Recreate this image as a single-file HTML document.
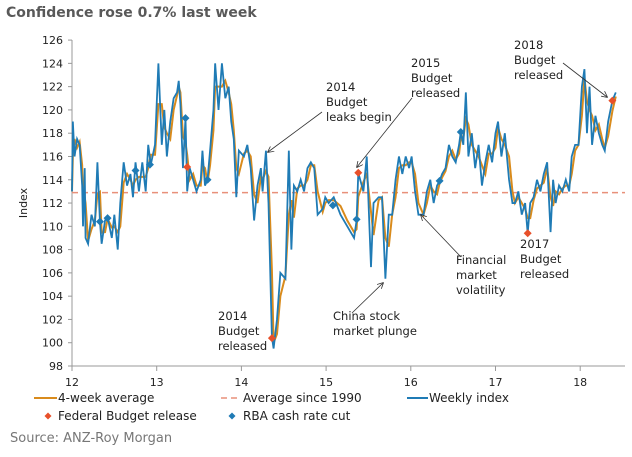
<!DOCTYPE html>
<html><head><meta charset="utf-8"><style>
body{margin:0;background:#fff;width:632px;height:453px;overflow:hidden;font-family:"DejaVu Sans","Liberation Sans",sans-serif}
svg text{font-family:"DejaVu Sans","Liberation Sans",sans-serif}
</style></head><body>
<svg id="c" width="632" height="453">
<text x="6" y="17" font-size="14" font-weight="bold" fill="#595959">Confidence rose 0.7% last week</text>
<text x="10" y="442" font-size="13" fill="#777">Source: ANZ-Roy Morgan</text>
</svg>
<script>
const years=[12.00,12.01,12.03,12.06,12.09,12.12,12.13,12.15,12.16,12.19,12.23,12.27,12.30,12.33,12.35,12.39,12.42,12.47,12.50,12.54,12.57,12.61,12.65,12.69,12.72,12.75,12.79,12.83,12.87,12.90,12.93,12.98,13.02,13.06,13.09,13.12,13.16,13.20,13.24,13.26,13.28,13.31,13.34,13.36,13.39,13.43,13.47,13.52,13.54,13.57,13.60,13.63,13.67,13.69,13.73,13.77,13.81,13.85,13.88,13.91,13.94,13.97,14.03,14.07,14.11,14.15,14.19,14.23,14.25,14.29,14.32,14.36,14.38,14.42,14.46,14.52,14.56,14.59,14.62,14.66,14.70,14.74,14.78,14.82,14.86,14.90,14.96,14.99,15.03,15.09,15.17,15.25,15.33,15.36,15.38,15.44,15.48,15.53,15.56,15.62,15.66,15.70,15.74,15.78,15.82,15.86,15.90,15.94,15.98,16.01,16.05,16.09,16.15,16.19,16.23,16.27,16.31,16.34,16.37,16.41,16.45,16.49,16.53,16.57,16.59,16.62,16.65,16.68,16.72,16.76,16.80,16.84,16.88,16.92,16.96,17.00,17.03,17.07,17.11,17.16,17.20,17.23,17.27,17.31,17.35,17.38,17.41,17.45,17.49,17.53,17.57,17.61,17.65,17.68,17.71,17.75,17.79,17.83,17.87,17.90,17.94,17.98,18.02,18.05,18.08,18.11,18.14,18.18,18.22,18.26,18.29,18.33,18.38,18.42];
const weekly=[113,119,116,117.5,117,113.5,110,115,109,108.5,111,110,115.5,110.4,108.5,110.5,110.8,109,111,108,112,115.5,113.5,114.5,112.5,115.5,113,115.5,113,117,115.3,117,124,117,120,116,119,121,121.5,122.5,120.5,115,119.3,113,115,114,113,114,116.5,113.5,114,116.5,120,124,120,124,121,122,119,117.5,112.5,116.5,116,117,115,110.5,113.5,115,113,116.5,112,100.5,99.5,102,106,105.5,116.5,108,113.5,113,114,113,115,115.5,115,111,111.5,112.5,112,112.5,111,110,109,110.5,114.6,113,116,106.5,112,112.5,112.5,105.5,111,111,114,116,114.5,116,115,116,113,111,111,113,114,112,113.5,113.9,114.5,115,117,116,115.5,117,118.1,117,121.5,116,118,115,117,113.5,115.5,117,115.5,118,119,116,118,114,112,112,113,111,112,109.4,112,112.5,114,113,114.5,115.5,109.5,114,112,113.5,113,114,113,116,117,117,122,123.5,118,122,117,119.5,118,117,116.5,119,120.8,121.5];
const budgetYears=[13.36,14.36,15.38,17.38,18.38];
const budgetVals=[115.1,100.4,114.6,109.4,120.8];
const rbaYears=[12.33,12.42,12.75,12.92,13.34,13.60,15.08,15.36,16.34,16.59];
const rbaVals=[110.4,110.7,114.8,115.3,119.3,114.0,111.8,110.6,113.9,118.1];
const yTicks=[98,100,102,104,106,108,110,112,114,116,118,120,122,124,126];
const xTicks=[12,13,14,15,16,17,18];
const avgSince1990=[112.9];
const X=t=>72+(t-12)*84.7, Y=v=>366-(v-98)*11.64;
const svg=document.getElementById('c'),NS='http://www.w3.org/2000/svg';
function mk(tag,attrs,parent){const e=document.createElementNS(NS,tag);for(const k in attrs)e.setAttribute(k,attrs[k]);(parent||svg).appendChild(e);return e;}
let ax=mk('line',{x1:72,y1:40,x2:72,y2:366,stroke:'#999'});


let bx=mk('line',{x1:72,y1:366,x2:625,y2:366,stroke:'#999'});


yTicks.forEach(v=>{mk('line',{x1:68,x2:72,y1:Y(v),y2:Y(v),stroke:'#999'});
 const t=mk('text',{x:63,y:Y(v)+4,'font-size':11,'text-anchor':'end',fill:'#222'});t.textContent=v;
 
 });
xTicks.forEach(v=>{mk('line',{x1:X(v),x2:X(v),y1:366,y2:371,stroke:'#999'});
 const t=mk('text',{x:X(v),y:386,'font-size':11,'text-anchor':'middle',fill:'#222'});t.textContent=v;
 
 });
const yt=mk('text',{x:0,y:0,'font-size':11,'text-anchor':'middle',fill:'#222',transform:'translate(27,203) rotate(-90)'});yt.textContent='Index';


const al=mk('line',{x1:72,x2:625,y1:Y(avgSince1990[0]),y2:Y(avgSince1990[0]),stroke:'#e8907a','stroke-width':1.5,'stroke-dasharray':'6,4'});


const avg4=weekly.map((v,i)=>i===0?v:(v+weekly[i-1])/2);
const p1=mk('polyline',{points:years.map((t,i)=>X(t)+','+Y(avg4[i])).join(' '),fill:'none',stroke:'#d98b1c','stroke-width':2});


const p2=mk('polyline',{points:years.map((t,i)=>X(t)+','+Y(weekly[i])).join(' '),fill:'none',stroke:'#1f7bb5','stroke-width':1.8});


function dia(x,y,c,s){return mk('polygon',{points:`${x},${y-s} ${x+s},${y} ${x},${y+s} ${x-s},${y}`,fill:c});}
rbaYears.forEach((t,i)=>{const d=dia(X(t),Y(rbaVals[i]),'#1f7bb5',4);
 
 });
budgetYears.forEach((t,i)=>{const d=dia(X(t),Y(budgetVals[i]),'#e8502a',4);
 
 });
function note(x,y,lines,name){const t=mk('text',{x:x,y:y,'font-size':11.5,fill:'#222'});
 
 
 lines.forEach((l,i)=>{const s=mk('tspan',{x:x,dy:i?15:0},t);s.textContent=l;});}
note(326,91,['2014','Budget','leaks begin'],'note-2014-leaks');
note(411,67,['2015','Budget','released'],'note-2015-budget');
note(514,49,['2018','Budget','released'],'note-2018-budget');
note(218,320,['2014','Budget','released'],'note-2014-budget');
note(333,320,['China stock','market plunge'],'note-china');
note(456,264,['Financial','market','volatility'],'note-financial');
note(520,248,['2017','Budget','released'],'note-2017-budget');
mk('defs',{}).innerHTML='<marker id="ar" markerWidth="8" markerHeight="8" refX="7" refY="4" orient="auto"><path d="M0,0 L8,4 L0,8" fill="none" stroke="#333"/></marker>';
[[322,112,268,152],[412,98,357,167],[563,63,607,97],[352,313,383,283],[461,257,421,215]].forEach(a=>{
 const l=mk('line',{x1:a[0],y1:a[1],x2:a[2],y2:a[3],stroke:'#333','stroke-width':0.8,'marker-end':'url(#ar)'});
 
 });
function leg(x,tx,y,label,kind,c){const g=mk('g',{});
 
 
 if(kind==='line')mk('line',{x1:x,x2:tx-1,y1:y,y2:y,stroke:c,'stroke-width':2},g);
 else if(kind==='dash')mk('line',{x1:x,x2:tx-6,y1:y,y2:y,stroke:c,'stroke-width':1.5,'stroke-dasharray':'6,4'},g);
 else {const d=dia(x,y,c,3.5);g.appendChild(d);}
 const t=mk('text',{x:tx,y:y+4,'font-size':12,fill:'#222'},g);t.textContent=label;}
leg(34,58,398,'4-week average','line','#d98b1c');
leg(221,243,398,'Average since 1990','dash','#e8907a');
leg(407,429,398,'Weekly index','line','#1f7bb5');
leg(48,58+0,416,'Federal Budget release','dia','#e8502a');
leg(232,243,416,'RBA cash rate cut','dia','#1f7bb5');
</script>
</body></html>
